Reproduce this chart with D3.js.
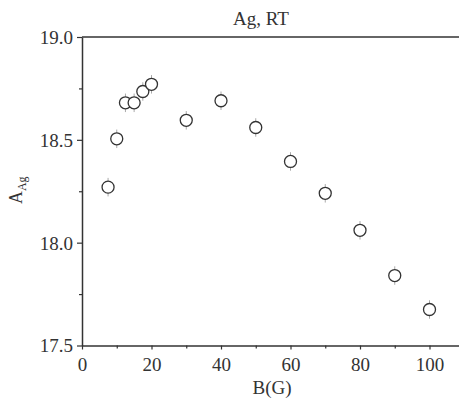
<!DOCTYPE html>
<html>
<head>
<meta charset="utf-8">
<script src="https://cdn.jsdelivr.net/npm/d3@7/dist/d3.min.js"></script>
<style>
  html, body { margin: 0; padding: 0; background: #fff; }
</style>
</head>
<body>
<div id="chart"></div>
<script>
// data
const fieldB = [7.5, 10, 12.5, 15, 17.5, 20, 30, 40, 50, 60, 70, 80, 90, 100];
const asymAg = [18.27, 18.505, 18.68, 18.68, 18.735, 18.77, 18.595, 18.69, 18.56, 18.395, 18.24, 18.06, 17.84, 17.675];
const errAg = [0.045, 0.045, 0.045, 0.045, 0.045, 0.045, 0.045, 0.045, 0.045, 0.045, 0.045, 0.045, 0.045, 0.045];
const xTicks = [0, 20, 40, 60, 80, 100];
const yTicks = [17.5, 18.0, 18.5, 19.0];

const width = 459, height = 405;
const margin = { top: 37, right: 0, bottom: 60, left: 82 };
const serif = "'Liberation Serif', 'Times New Roman', Times, serif";

const x = d3.scaleLinear().domain([0, 110]).range([margin.left, margin.left + 110 * 3.475]);
const y = d3.scaleLinear().domain([17.5, 19.0]).range([345.5, 37]);

const svg = d3.select("#chart").append("svg")
  .attr("width", width).attr("height", height)
  .attr("viewBox", `0 0 ${width} ${height}`)
  .attr("font-family", serif);

// minor ticks
svg.append("g")
  .attr("transform", `translate(0,${y(17.5)})`)
  .call(d3.axisBottom(x).tickValues([10, 30, 50, 70, 90, 110]).tickSize(3).tickFormat(""))
  .call(g => g.select(".domain").remove());
svg.append("g")
  .attr("transform", `translate(${margin.left},0)`)
  .call(d3.axisLeft(y).tickValues([17.75, 18.25, 18.75]).tickSize(3).tickFormat(""))
  .call(g => g.select(".domain").remove());

// main axes
const xAxis = svg.append("g")
  .attr("transform", `translate(0,${y(17.5)})`)
  .call(d3.axisBottom(x).tickValues(xTicks).tickSize(4).tickSizeOuter(0).tickFormat(d3.format("d")));
const yAxis = svg.append("g")
  .attr("transform", `translate(${margin.left},0)`)
  .call(d3.axisLeft(y).tickValues(yTicks).tickSize(5).tickSizeOuter(0).tickFormat(d3.format(".1f")));

svg.selectAll("g").attr("font-family", serif);
svg.selectAll(".tick line").attr("stroke", "#333").attr("stroke-width", 1.2);
svg.selectAll(".domain").attr("stroke", "#333").attr("stroke-width", 1.5);
xAxis.selectAll("text").attr("font-size", 19).attr("dy", "0.95em").attr("fill", "#333");
yAxis.selectAll("text").attr("font-size", 19).attr("dy", "0.34em").attr("x", -9).attr("fill", "#333");

// top frame line
svg.append("line")
  .attr("x1", margin.left).attr("x2", width)
  .attr("y1", y(19.0)).attr("y2", y(19.0))
  .attr("stroke", "#333").attr("stroke-width", 1.5);

// error bars
svg.append("g").selectAll("line")
  .data(fieldB)
  .join("line")
  .attr("x1", d => x(d)).attr("x2", d => x(d))
  .attr("y1", (d, i) => y(asymAg[i] - errAg[i]))
  .attr("y2", (d, i) => y(asymAg[i] + errAg[i]))
  .attr("stroke", "#aaa").attr("stroke-width", 1);

// points
svg.append("g").selectAll("circle")
  .data(fieldB)
  .join("circle")
  .attr("cx", d => x(d))
  .attr("cy", (d, i) => y(asymAg[i]))
  .attr("r", 6)
  .attr("fill", "#fff")
  .attr("stroke", "#333").attr("stroke-width", 1.3);

// title and labels
svg.append("text").attr("x", 261).attr("y", 25)
  .attr("text-anchor", "middle").attr("font-size", 19).attr("fill", "#333").text("Ag, RT");

svg.append("text").attr("x", 272).attr("y", 394)
  .attr("text-anchor", "middle").attr("font-size", 19).attr("fill", "#333").text("B(G)");

const yl = svg.append("text")
  .attr("transform", `translate(22,${y(18.25) - 1}) rotate(-90)`)
  .attr("text-anchor", "middle").attr("font-size", 18).attr("fill", "#333");
yl.append("tspan").text("A");
yl.append("tspan").attr("font-size", 12).attr("dy", 4).text("Ag");
</script>
</body>
</html>
